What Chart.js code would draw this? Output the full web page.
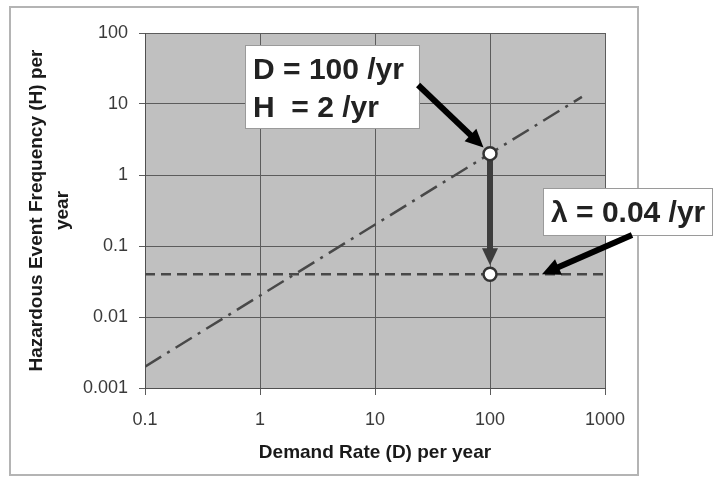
<!DOCTYPE html>
<html><head><meta charset="utf-8">
<style>html,body{margin:0;padding:0;background:#fff;} canvas{display:block;}</style>
<script src="https://cdn.jsdelivr.net/npm/chart.js@4.4.1/dist/chart.umd.min.js"></script>
</head><body>
<canvas id="c" width="713" height="477"></canvas>
<script>
// ---- data ----
const xTickValues = [0.1, 1, 10, 100, 1000];
const xTickLabels = ["0.1", "1", "10", "100", "1000"];
const yTickValues = [0.001, 0.01, 0.1, 1, 10, 100];
const yTickLabels = ["0.001", "0.01", "0.1", "1", "10", "100"];
const demandLine = [0.1, 630];
const hazardLine = [0.002, 12.6];
const lambdaDemand = [0.1, 1000];
const lambdaValue = [0.04, 0.04];
const markerDemand = [100, 100];
const markerValue = [2, 0.04];
const xTitle = "Demand Rate (D) per year";
const yTitle = ["Hazardous Event Frequency (H) per", "year"];
const noteD = ["D = 100 /yr", "H  = 2 /yr"];
const noteLambda = ["λ = 0.04 /yr"];

// ---- annotation placement (data coordinates) ----
const noteDBox = {x0: 0.741, y0: 67.8, x1: 24.1, y1: 4.59};
const noteDArrowStart = {x: 23.7, y: 18.5};
const noteLBox = {x0: 289, y0: 0.656, x1: 8510, y1: 0.143};
const noteLArrow = {x0: 1718, y0: 0.143, x1: 283, y1: 0.04};

const FONT = "'Liberation Sans', Arial, Helvetica, sans-serif";

function arrow(ctx, x1, y1, x2, y2, color, w, hl, hw) {
  const ang = Math.atan2(y2 - y1, x2 - x1);
  const c = Math.cos(ang), s = Math.sin(ang);
  const bx = x2 - hl * c, by = y2 - hl * s;
  ctx.save();
  ctx.strokeStyle = color; ctx.fillStyle = color; ctx.lineWidth = w; ctx.lineCap = 'butt';
  ctx.beginPath(); ctx.moveTo(x1, y1); ctx.lineTo(bx + c, by + s); ctx.stroke();
  ctx.beginPath(); ctx.moveTo(x2, y2);
  ctx.lineTo(bx + hw / 2 * s, by - hw / 2 * c);
  ctx.lineTo(bx - hw / 2 * s, by + hw / 2 * c);
  ctx.closePath(); ctx.fill();
  ctx.restore();
}

function noteBox(ctx, xs, ys, box, lines) {
  const l = xs.getPixelForValue(box.x0), t = ys.getPixelForValue(box.y0);
  const r = xs.getPixelForValue(box.x1), b = ys.getPixelForValue(box.y1);
  ctx.save();
  ctx.fillStyle = '#ffffff';
  ctx.fillRect(l, t, r - l, b - t);
  ctx.strokeStyle = '#9a9a9a'; ctx.lineWidth = 1;
  ctx.strokeRect(Math.round(l) + 0.5, Math.round(t) + 0.5, Math.round(r - l), Math.round(b - t));
  ctx.fillStyle = '#222222';
  ctx.font = 'bold 30px ' + FONT;
  ctx.textBaseline = 'alphabetic'; ctx.textAlign = 'left';
  lines.forEach((s, i) => ctx.fillText(s, l + 8, t + 34 + i * 38));
  ctx.restore();
}

const decor = {
  id: 'decor',
  beforeDraw(chart) {
    const {ctx, chartArea: a} = chart;
    ctx.save();
    ctx.fillStyle = '#ffffff'; ctx.fillRect(0, 0, chart.width, chart.height);
    ctx.strokeStyle = '#b4b4b4'; ctx.lineWidth = 2; ctx.strokeRect(10, 7, 628, 468);
    ctx.fillStyle = '#c0c0c0'; ctx.fillRect(a.left, a.top, a.right - a.left, a.bottom - a.top);
    ctx.restore();
  },
  beforeDatasetsDraw(chart) {
    const {ctx} = chart; const xs = chart.scales.x, ys = chart.scales.y;
    const x = xs.getPixelForValue(markerDemand[0]);
    const y1 = ys.getPixelForValue(markerValue[0]);
    const y2 = ys.getPixelForValue(markerValue[1]);
    arrow(ctx, x, y1, x, y2 - 9, '#3d3d3d', 6, 17, 16);
  },
  afterDatasetsDraw(chart) {
    const {ctx} = chart; const xs = chart.scales.x, ys = chart.scales.y;
    noteBox(ctx, xs, ys, noteDBox, noteD);
    noteBox(ctx, xs, ys, noteLBox, noteLambda);
    const sx = xs.getPixelForValue(noteDArrowStart.x), sy = ys.getPixelForValue(noteDArrowStart.y);
    const px = xs.getPixelForValue(markerDemand[0]), py = ys.getPixelForValue(markerValue[0]);
    const d = Math.hypot(px - sx, py - sy), k = (d - 9) / d;
    arrow(ctx, sx, sy, sx + (px - sx) * k, sy + (py - sy) * k, '#000000', 6, 18, 17);
    arrow(ctx, xs.getPixelForValue(noteLArrow.x0), ys.getPixelForValue(noteLArrow.y0),
      xs.getPixelForValue(noteLArrow.x1), ys.getPixelForValue(noteLArrow.y1), '#000000', 6, 18, 17);
  }
};

new Chart(document.getElementById('c'), {
  type: 'scatter',
  data: {
    datasets: [
      {
        data: demandLine.map((d, i) => ({x: d, y: hazardLine[i]})),
        showLine: true, borderColor: '#484848', borderWidth: 2.5,
        borderDash: [19, 7, 3, 7], pointRadius: 0, fill: false, order: 2
      },
      {
        data: lambdaDemand.map((d, i) => ({x: d, y: lambdaValue[i]})),
        showLine: true, borderColor: '#484848', borderWidth: 2.7,
        borderDash: [10, 6], pointRadius: 0, fill: false, order: 1
      },
      {
        data: markerDemand.map((d, i) => ({x: d, y: markerValue[i]})),
        showLine: false, pointRadius: 6.5, pointBackgroundColor: '#ffffff',
        pointBorderColor: '#333333', pointBorderWidth: 2.5, pointHoverRadius: 6.5, order: 0
      }
    ]
  },
  options: {
    responsive: false, animation: false, devicePixelRatio: 1,
    layout: {padding: {left: 0, top: 33, right: 108, bottom: 0}},
    plugins: {legend: {display: false}, tooltip: {enabled: false}},
    events: [],
    scales: {
      x: {
        type: 'logarithmic', min: 0.1, max: 1000,
        afterBuildTicks(s) { s.ticks = xTickValues.map(v => ({value: v})); },
        afterFit(s) { s.height = 89; },
        ticks: {
          callback: (v, i) => xTickLabels[i], color: '#3a3a3a',
          font: {size: 18, family: FONT}, padding: 14, maxRotation: 0, autoSkip: false
        },
        grid: {color: '#5c5c5c', lineWidth: 1, tickLength: 7, tickColor: '#5c5c5c'},
        border: {color: '#505050', width: 1},
        title: {
          display: true, text: xTitle, color: '#1a1a1a',
          font: {size: 19, weight: 'bold', family: FONT, lineHeight: 1.2},
          padding: {top: 0, bottom: 13}
        }
      },
      y: {
        type: 'logarithmic', min: 0.001, max: 100,
        afterBuildTicks(s) { s.ticks = yTickValues.map(v => ({value: v})); },
        afterFit(s) { s.width = 145; },
        ticks: {
          callback: (v, i) => yTickLabels[i], color: '#3a3a3a',
          font: {size: 18, family: FONT}, padding: 11, autoSkip: false
        },
        grid: {color: '#5c5c5c', lineWidth: 1, tickLength: 6, tickColor: '#5c5c5c'},
        border: {color: '#505050', width: 1},
        title: {
          display: true, text: yTitle, color: '#1a1a1a',
          font: {size: 19, weight: 'bold', family: FONT, lineHeight: 1.37},
          padding: {top: 24, bottom: 0}
        }
      }
    }
  },
  plugins: [decor]
});
</script>
</body></html>
